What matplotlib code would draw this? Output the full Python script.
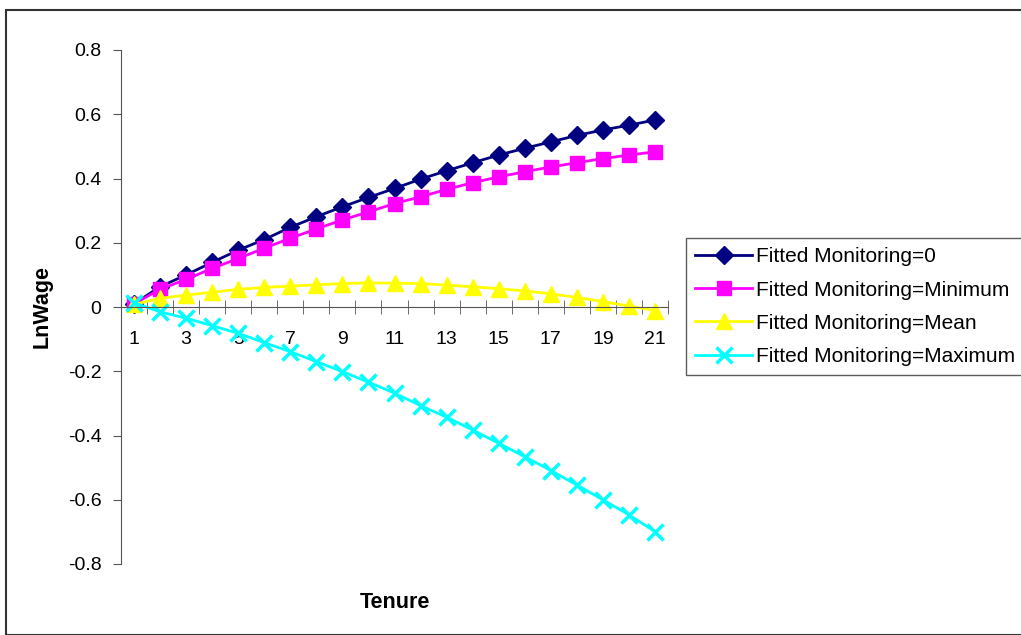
import matplotlib.pyplot as plt
from matplotlib.patches import Rectangle
import numpy as np

plt.rcParams['font.family'] = ['Liberation Sans', 'DejaVu Sans']

tenure = list(range(1, 22))
fitted_zero = [0.01, 0.063, 0.10, 0.139, 0.177, 0.21, 0.248, 0.281, 0.312, 0.341, 0.369,
               0.398, 0.424, 0.449, 0.473, 0.494, 0.514, 0.534, 0.551, 0.566, 0.582]
fitted_min = [0.01, 0.055, 0.086, 0.12, 0.151, 0.183, 0.214, 0.243, 0.271, 0.296, 0.322,
              0.343, 0.366, 0.387, 0.405, 0.421, 0.436, 0.449, 0.462, 0.473, 0.483]
fitted_mean = [0.008, 0.027, 0.037, 0.046, 0.055, 0.061, 0.065, 0.069, 0.073, 0.075, 0.074,
               0.073, 0.068, 0.063, 0.057, 0.05, 0.041, 0.03, 0.017, 0.003, -0.011]
fitted_max = [0.013, -0.015, -0.035, -0.058, -0.082, -0.111, -0.139, -0.17, -0.201, -0.234, -0.268,
              -0.307, -0.343, -0.383, -0.424, -0.466, -0.509, -0.554, -0.6, -0.647, -0.699]

series = [
    ("Fitted Monitoring=0", fitted_zero, "#000080", "D", 9),
    ("Fitted Monitoring=Minimum", fitted_min, "#FF00FF", "s", 10),
    ("Fitted Monitoring=Mean", fitted_mean, "#FFFF00", "^", 11),
    ("Fitted Monitoring=Maximum", fitted_max, "#00FFFF", "x", 11),
]

fig = plt.figure(figsize=(10.21, 6.35), dpi=100)
# cadre autour de tout le graphique
fig.patches.append(Rectangle((6 / 1021, 0), 1.1, (635 - 10) / 635, transform=fig.transFigure,
                             fill=False, edgecolor="#333333", linewidth=1.5))
ax = fig.add_axes([121 / 1021, (635 - 564) / 635, 547 / 1021, 514 / 635])

x = np.arange(len(tenure))
for name, vals, color, marker, ms in series:
    ax.plot(x, vals, color=color, marker=marker, markersize=ms, linewidth=2,
            markeredgewidth=2.5 if marker == "x" else 1, markeredgecolor=color,
            label=name, clip_on=False)

ax.set_xlim(-0.5, len(tenure) - 0.5)
ax.set_ylim(-0.8, 0.8)

ax.spines['top'].set_visible(False)
ax.spines['right'].set_visible(False)
ax.spines['bottom'].set_position(('data', 0))
ax.spines['left'].set_color("#555555")
ax.spines['bottom'].set_color("#555555")

ax.set_xticks(x[::2])
ax.set_xticklabels([str(t) for t in tenure[::2]], fontsize=14)
ax.set_xticks(np.arange(-0.5, len(tenure)), minor=True)
ax.tick_params(axis='x', which='major', length=0, pad=17)
ax.tick_params(axis='x', which='minor', direction='inout', length=10, color="#555555")

yt = np.round(np.arange(-0.8, 0.81, 0.2), 1)
ax.set_yticks(yt)
ax.set_yticklabels(["0" if v == 0 else f"{v:.1f}" for v in yt], fontsize=14)
ax.tick_params(axis='y', direction='out', length=6, color="#555555", pad=8)

ax.set_ylabel("LnWage", fontsize=15.5, fontweight='bold')
ax.yaxis.set_label_coords(-68 / 547, 0.5)
ax.set_xlabel("Tenure", fontsize=15.5, fontweight='bold')
ax.xaxis.set_label_coords(0.5, -(592 - 564) / 514)

leg = ax.legend(loc='upper left', bbox_to_anchor=(686 / 1021, (635 - 238) / 635),
                bbox_transform=fig.transFigure, fontsize=15, frameon=True, fancybox=False,
                borderpad=0.45, labelspacing=0.68, handlelength=2.7, handletextpad=0.2,
                borderaxespad=0)
leg.get_frame().set_edgecolor("#333333")
leg.get_frame().set_linewidth(1)

fig.savefig("out.png", dpi=100)
